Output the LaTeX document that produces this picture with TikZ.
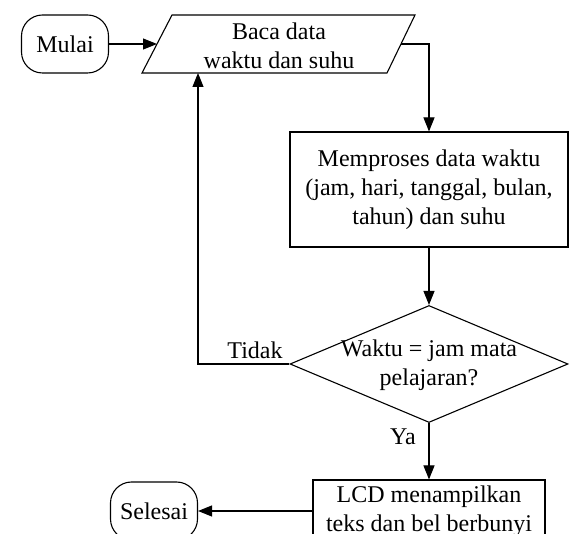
\documentclass[tikz,border=0pt]{standalone}
\usepackage{fontspec}
\setmainfont{Liberation Serif}
\usetikzlibrary{shapes.geometric,arrows.meta}
\begin{document}
\begin{tikzpicture}[x=1pt,y=-1pt,
  font=\fontsize{24}{29}\selectfont,
  line width=1.1pt,
  arr/.style={-{Triangle[length=14pt,width=11pt]}},
  term/.style={draw, rounded corners=21pt, minimum width=87pt, minimum height=58pt, inner sep=0pt},
  proc/.style={draw, align=center, inner sep=0pt},
  txt/.style={align=center, inner sep=0pt}]
\useasboundingbox (0,0) rectangle (582,534);
\clip (0,0) rectangle (582,534);
% nodes
\node[term] (mulai) at (65,44) {Mulai};
\draw (172,15) -- (415,15) -- (387,73) -- (142,73) -- cycle;
\node[txt] (baca) at (279,46) {Baca data\\waktu dan suhu};
\coordinate (paraL) at (157,44);
\coordinate (paraR) at (401,44);
\coordinate (paraB) at (198,73);
\node[proc, minimum width=278pt, minimum height=115pt] (proses) at (429,189.5)
  {Memproses data waktu\\(jam, hari, tanggal, bulan,\\tahun) dan suhu};
\node[draw, diamond, minimum width=278pt, minimum height=117pt, inner sep=0pt] (dec) at (429,364) {};
\node[txt] (dectext) at (429,365) {Waktu = jam mata\\pelajaran?};
\node[proc, minimum width=232pt, minimum height=62pt] (lcd) at (429,511)
  {LCD menampilkan\\teks dan bel berbunyi};
\node[term] (selesai) at (154,511) {Selesai};
% connectors
\draw[arr] (mulai) -- (paraL);
\draw[arr] (paraR) -| (proses.north);
\draw[arr] (proses) -- (dec);
\draw[arr] (dec.west) -| (paraB);
\node[txt] (tidak) at (255,350) {Tidak};
\draw[arr] (dec) -- (lcd);
\node[txt] (ya) at (403,437) {Ya};
\draw[arr] (lcd) -- (selesai);
\end{tikzpicture}
\end{document}
